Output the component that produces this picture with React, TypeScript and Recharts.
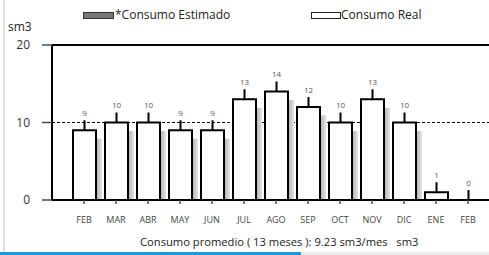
import React from 'react'
import {
  BarChart,
  Bar,
  XAxis,
  YAxis,
  CartesianGrid,
  ReferenceLine,
  LabelList
} from 'recharts'

const meses = ['FEB', 'MAR', 'ABR', 'MAY', 'JUN', 'JUL', 'AGO', 'SEP', 'OCT', 'NOV', 'DIC', 'ENE', 'FEB']
const consumoReal = [9, 10, 10, 9, 9, 13, 14, 12, 10, 13, 10, 1, 0]
const yTicks = [0, 10, 20]

const data = meses.map((mes, i) => ({ id: `${mes}-${i}`, mes, real: consumoReal[i] }))

const FONT = '"Open Sans", "Noto Sans", sans-serif'

// white bar with a soft grey drop shadow on its right side
const BarWithShadow = (props: any) => {
  const { x, y, width, height } = props
  const sh = Math.max(0, height - 8.5)
  return (
    <g>
      {sh > 0 && (
        <rect x={x + width} y={y + 8.5} width={6} height={sh} fill="url(#sombra)" />
      )}
      <rect x={x} y={y} width={width} height={height} fill="#fff" stroke="#000" strokeWidth={2} />
    </g>
  )
}

const renderTop = (props: any) => {
  const { x, y, width, value } = props
  const cx = x + width / 2
  return (
    <g>
      <line x1={cx} y1={y} x2={cx} y2={y - 10} stroke="#000" strokeWidth={2} />
      <text x={cx} y={y - 18} textAnchor="middle" dominantBaseline="central" fontSize={8} fill="#555" fontFamily={FONT}>
        {value}
      </text>
    </g>
  )
}

export default function App() {
  return (
    <div style={{ position: 'absolute', left: 0, top: 0, width: 489, height: 255, background: '#fff', overflow: 'hidden', fontFamily: FONT }}>
      <div style={{ position: 'absolute', left: 3, top: 0, width: 2, height: 252, background: '#dedede' }} />
      <div style={{ position: 'absolute', left: 8, top: 19, fontSize: 12, lineHeight: '16px', color: '#222' }}>sm3</div>

      {/* legend */}
      <div style={{ position: 'absolute', left: 83, top: 12, width: 29, height: 5, background: '#777', border: '1px solid #333' }} />
      <div style={{ position: 'absolute', left: 115, top: 6, fontSize: 12, lineHeight: '18px', color: '#222' }}>*Consumo Estimado</div>
      <div style={{ position: 'absolute', left: 311, top: 12, width: 28, height: 5, background: '#fff', border: '1px solid #222' }} />
      <div style={{ position: 'absolute', left: 341, top: 6, fontSize: 12, lineHeight: '18px', color: '#222' }}>Consumo Real</div>

      <div style={{ position: 'absolute', left: 0, top: 0 }}>
        <BarChart width={489} height={255} data={data} margin={{ top: 45, right: 0, bottom: 25, left: 0 }}>
          <defs>
            <linearGradient id="sombra" x1="0" y1="0" x2="1" y2="0">
              <stop offset="0%" stopColor="#b0b0b0" />
              <stop offset="100%" stopColor="#e4e4e4" />
            </linearGradient>
          </defs>
          <CartesianGrid vertical={false} stroke="#000" strokeDasharray="3 2" />
          <XAxis
            dataKey="id"
            tickFormatter={(v: string) => v.split('-')[0]}
            interval={0}
            height={30}
            padding={{ left: 16, right: 5 }}
            axisLine={{ stroke: '#000', strokeWidth: 2 }}
            tickLine={{ stroke: '#3b4a6b', strokeWidth: 1.5 }}
            tickSize={4}
            tickMargin={13}
            tick={{ fontSize: 9, fill: '#444', fontFamily: FONT }}
          />
          <YAxis
            domain={[0, 20]}
            ticks={yTicks}
            width={52}
            axisLine={{ stroke: '#000', strokeWidth: 2 }}
            tickLine={{ stroke: '#3b4a6b', strokeWidth: 1.5 }}
            tickSize={10}
            tickMargin={12}
            tick={{ fontSize: 12, fill: '#333', fontFamily: FONT }}
          />
          <ReferenceLine y={20} stroke="#000" strokeWidth={2} />
          <Bar dataKey="real" barSize={23} shape={BarWithShadow} isAnimationActive={false}>
            <LabelList dataKey="real" content={renderTop} />
          </Bar>
        </BarChart>
      </div>

      <div style={{ position: 'absolute', left: 140, top: 234, fontSize: 11.2, lineHeight: '16px', color: '#222', whiteSpace: 'pre' }}>
        Consumo promedio ( 13 meses ): 9.23 sm3/mes   sm3
      </div>
      <div style={{ position: 'absolute', left: 0, top: 252, width: 301, height: 3, background: '#1b9ad6' }} />
      <div style={{ position: 'absolute', left: 301, top: 252, width: 188, height: 3, background: '#ececec' }} />
    </div>
  )
}
